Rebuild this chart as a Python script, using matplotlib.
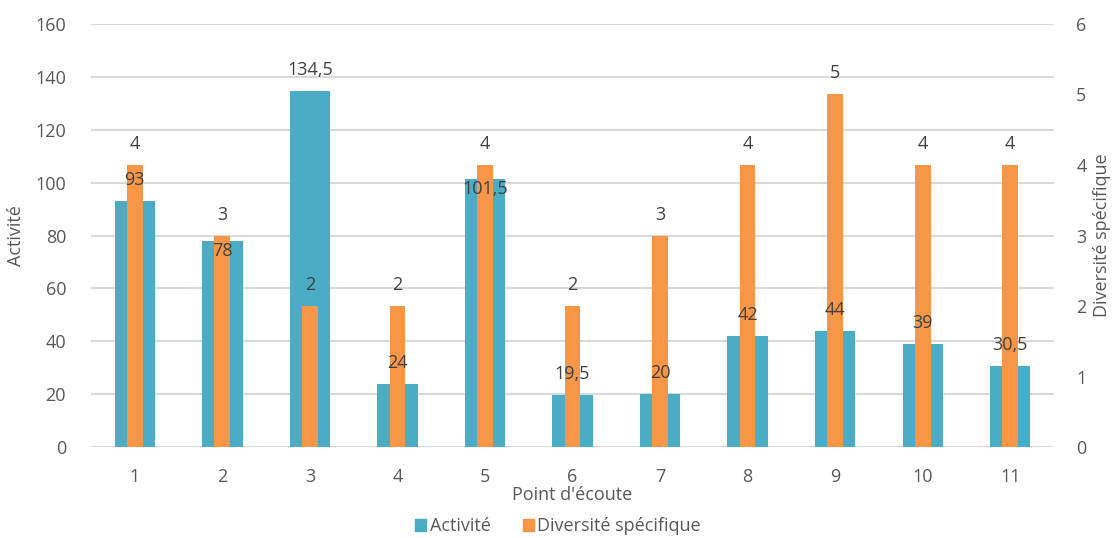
import matplotlib
matplotlib.use("Agg")
import matplotlib.pyplot as plt
import numpy as np
from matplotlib.patches import Patch

plt.rcParams['font.family'] = ['Open Sans', 'DejaVu Sans']

points = ['1', '2', '3', '4', '5', '6', '7', '8', '9', '10', '11']
activite = [93, 78, 134.5, 24, 101.5, 19.5, 20, 42, 44, 39, 30.5]
diversite = [4, 3, 2, 2, 4, 2, 3, 4, 5, 4, 4]

BLUE = '#4BACC6'
ORANGE = '#F79646'
TEXT = '#595959'
LABEL = '#404040'
GRID = '#D9D9D9'
FS = 13


def fmt(v):
    return f"{v:g}".replace('.', ',')


fig = plt.figure(figsize=(11.16, 5.38), dpi=100)
ax = fig.add_axes([0.0816, 0.1691, 0.8628, 0.7863])
ax2 = ax.twinx()

x = np.arange(len(points))
ax.bar(x, activite, width=0.46, color=BLUE, zorder=2)
ax2.bar(x, diversite, width=0.18, color=ORANGE, zorder=2)

ax.set_xlim(-0.5, len(points) - 0.5)
ax.set_ylim(0, 160)
ax.set_yticks(np.arange(0, 161, 20))
ax2.set_ylim(0, 6)
ax2.set_yticks(np.arange(0, 7, 1))

ax.set_xticks(x)
ax.set_xticklabels(points)

ax.yaxis.grid(True, color=GRID, linewidth=1.5, zorder=0)
ax.set_axisbelow(True)

for a in (ax, ax2):
    for s in a.spines.values():
        s.set_visible(False)
    a.tick_params(length=0, colors=TEXT, labelsize=FS)

ax.tick_params(axis='x', pad=15)
ax.tick_params(axis='y', pad=18)
ax2.tick_params(axis='y', pad=16)

ax.set_xlabel("Point d'écoute", color=TEXT, fontsize=FS, labelpad=0)
ax.set_ylabel("Activité", color=TEXT, fontsize=FS, labelpad=7)
ax2.set_ylabel("Diversité spécifique", color=TEXT, fontsize=FS, labelpad=5)

# Value labels: 21 px above each bar top; an "Activité" label that would run
# into the "Diversité" label of the same point is tucked just inside its bar.
px = 72.0 / fig.dpi
above = 21 * px
inside = -10 * px
for xi, a_val, d_val in zip(x, activite, diversite):
    ya = ax.transData.transform((xi, a_val))[1]
    yd = ax2.transData.transform((xi, d_val))[1]
    off = above if abs(ya - yd) > 25 else inside
    ax2.annotate(fmt(a_val), xy=(xi, a_val), xycoords=ax.transData,
                 xytext=(0, off), textcoords='offset points',
                 ha='center', va='center', fontsize=FS, color=LABEL, zorder=5)
    ax2.annotate(fmt(d_val), xy=(xi, d_val), xycoords=ax2.transData,
                 xytext=(0, above), textcoords='offset points',
                 ha='center', va='center', fontsize=FS, color=LABEL, zorder=5)

handles = [Patch(color=BLUE, label='Activité'),
           Patch(color=ORANGE, label='Diversité spécifique')]
fig.legend(handles=handles, loc='center', bbox_to_anchor=(0.5, 0.022),
           ncol=2, frameon=False, fontsize=FS, labelcolor=TEXT,
           handlelength=0.6, handleheight=0.6, handletextpad=0.2,
           columnspacing=1.8, borderpad=0)

fig.savefig('out.png', dpi=100)
